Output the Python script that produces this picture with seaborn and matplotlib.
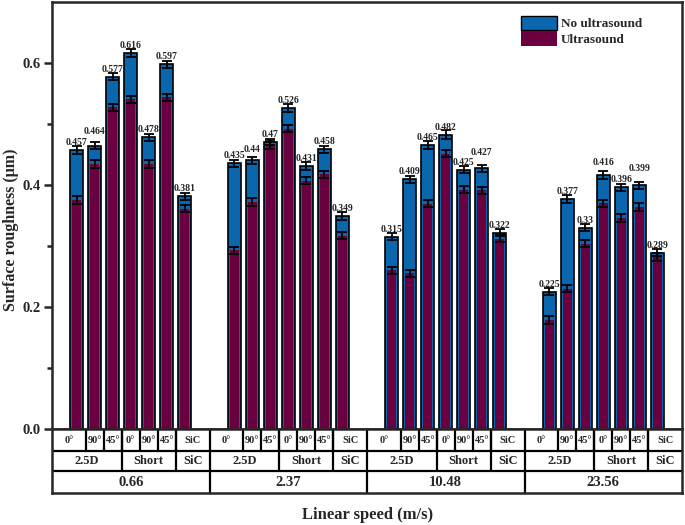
import numpy as np
import pandas as pd
import seaborn as sns
import matplotlib
matplotlib.use("Agg")
import matplotlib.pyplot as plt
from matplotlib.patches import Patch
from matplotlib.ticker import FixedLocator

# ---------------- data ----------------
speeds = ["0.66", "2.37", "10.48", "23.56"]
angles = ["0°", "90°", "45°", "0°", "90°", "45°", "SiC"]
materials = ["2.5D", "Short", "SiC"]
material_span = [3, 3, 1]

no_ultrasound = [0.457, 0.464, 0.577, 0.616, 0.478, 0.597, 0.381,
                 0.435, 0.44, 0.47, 0.526, 0.431, 0.458, 0.349,
                 0.315, 0.409, 0.465, 0.482, 0.425, 0.427, 0.322,
                 0.225, 0.377, 0.33, 0.416, 0.396, 0.399, 0.289]
ultrasound = [0.375, 0.434, 0.527, 0.540, 0.434, 0.543, 0.361,
              0.293, 0.372, 0.465, 0.492, 0.407, 0.417, 0.317,
              0.260, 0.255, 0.369, 0.451, 0.392, 0.391, 0.312,
              0.179, 0.230, 0.304, 0.370, 0.346, 0.364, 0.282]
no_ultrasound_err = [0.006, 0.006, 0.006, 0.007, 0.006, 0.006, 0.006,
                     0.006, 0.006, 0.005, 0.006, 0.006, 0.006, 0.006,
                     0.006, 0.006, 0.006, 0.007, 0.006, 0.006, 0.006,
                     0.006, 0.006, 0.006, 0.006, 0.006, 0.006, 0.006]
ultrasound_err = [0.006, 0.006, 0.006, 0.006, 0.006, 0.006, 0.006,
                  0.006, 0.006, 0.006, 0.006, 0.006, 0.006, 0.006,
                  0.006, 0.006, 0.006, 0.006, 0.006, 0.006, 0.006,
                  0.006, 0.006, 0.006, 0.006, 0.006, 0.006, 0.006]

# ---------------- style ----------------
BLUE = "#0a66ad"
MAROON = "#6b0041"
sns.set_theme(style="ticks")
plt.rcParams["font.family"] = ["Liberation Serif", "DejaVu Serif"]
plt.rcParams["font.weight"] = "bold"
plt.rcParams["axes.labelweight"] = "bold"

W, H = 685, 525
fig = plt.figure(figsize=(W / 100, H / 100), dpi=100)
L, R = 52 / W, 682 / W
y0, ytop, ytab = 429.3, 1.5, 493.0
ax = fig.add_axes([L, (H - y0) / H, R - L, (y0 - ytop) / H])
tax = fig.add_axes([L, (H - ytab) / H, R - L, (ytab - y0) / H])

STEP = 8.75
n = len(angles)
xpos = [g * STEP + i for g in range(len(speeds)) for i in range(n)]
df = pd.DataFrame({"x": xpos, "no": no_ultrasound, "us": ultrasound})

sns.barplot(data=df, x="x", y="no", native_scale=True, width=0.72, color=BLUE,
            saturation=1, edgecolor="black", linewidth=1.2, errorbar=None, ax=ax, zorder=2)
sns.barplot(data=df, x="x", y="us", native_scale=True, width=0.52, color=MAROON,
            saturation=1, linewidth=0, errorbar=None, ax=ax, zorder=3)

ax.errorbar(xpos, no_ultrasound, yerr=no_ultrasound_err, fmt="none", ecolor="black",
            elinewidth=1.3, capsize=3.5, capthick=1.3, zorder=5)
ax.errorbar(xpos, ultrasound, yerr=ultrasound_err, fmt="none", ecolor="black",
            elinewidth=1.3, capsize=3.5, capthick=1.3, zorder=5)

# label offsets (px above bar top)
lab_off = [7.5] * len(xpos)
lab_off[1] = 14
lab_off[8] = 11
lab_off[19] = 16
lab_off[24] = 12.5
lab_off[26] = 17
for x, v, off in zip(xpos, no_ultrasound, lab_off):
    ax.annotate(f"{v:g}", (x, v), xytext=(0, off * 0.72), textcoords="offset points",
                ha="center", va="center", fontsize=7, fontweight="bold", zorder=6)

xmin, xmax = -1.375, (len(speeds) - 1) * STEP + (n - 1) + 1.375
ax.set_xlim(xmin, xmax)
ax.set_ylim(0, 0.7)
ax.yaxis.set_major_locator(FixedLocator([0.0, 0.2, 0.4, 0.6]))
ax.yaxis.set_minor_locator(FixedLocator([0.1, 0.3, 0.5]))
ax.yaxis.set_major_formatter("{x:.1f}")
ax.tick_params(axis="y", which="major", length=6, width=1.8, labelsize=10.5, pad=2)
ax.tick_params(axis="y", which="minor", length=3.5, width=1.8)
ax.tick_params(axis="x", bottom=False, labelbottom=False)
ax.set_xlabel("")
ax.set_ylabel("Surface roughness (μm)", fontsize=11.5, fontweight="bold")
ax.yaxis.set_label_coords(-0.052, 0.466)
for s in ax.spines.values():
    s.set_linewidth(1.8)
    s.set_visible(True)

ax.legend(handles=[Patch(facecolor=BLUE, edgecolor="black", linewidth=1.0),
                   Patch(facecolor=MAROON, edgecolor="none")],
          labels=["No ultrasound", "Ultrasound"], loc="upper right",
          bbox_to_anchor=(0.955, 0.995), frameon=False, fontsize=9.5,
          handlelength=2.7, handleheight=1.35, labelspacing=0.05, handletextpad=0.3)

# ---------------- category table ----------------
tax.set_xlim(xmin, xmax)
tax.set_ylim(63.7, 0)
tax.set_xticks([])
tax.set_yticks([])
tax.set_facecolor("white")
for s in tax.spines.values():
    s.set_linewidth(1.8)
rows = [0, 21.7, 41.7, 63.7]
lw = 1.6
for r in rows[1:3]:
    tax.plot([xmin, xmax], [r, r], color="black", lw=lw, solid_capstyle="butt")
for g, sp in enumerate(speeds):
    base = g * STEP
    left = xmin if g == 0 else base - 1.375
    right = xmax if g == len(speeds) - 1 else base + (n - 1) + 1.375
    if g < len(speeds) - 1:
        tax.plot([right, right], [rows[0], rows[3]], color="black", lw=lw)
    # row 1
    for i, a in enumerate(angles):
        cl = left if i == 0 else base + i - 0.5
        cr = right if i == n - 1 else base + i + 0.5
        if i < n - 1:
            tax.plot([cr, cr], [rows[0], rows[1]], color="black", lw=lw)
        tax.text((cl + cr) / 2, (rows[0] + rows[1]) / 2 + 0.5, a, ha="center", va="center",
                 fontsize=7.5, fontweight="bold")
    # row 2
    start = 0
    for m, span in zip(materials, material_span):
        cl = left if start == 0 else base + start - 0.5
        end = start + span - 1
        cr = right if end == n - 1 else base + end + 0.5
        if end < n - 1:
            tax.plot([cr, cr], [rows[0], rows[2]], color="black", lw=lw)
        tax.text((cl + cr) / 2, (rows[1] + rows[2]) / 2 + 0.5, m, ha="center", va="center",
                 fontsize=9, fontweight="bold")
        start += span
    # row 3
    tax.text((left + right) / 2, (rows[2] + rows[3]) / 2 + 0.5, sp, ha="center", va="center",
             fontsize=10.5, fontweight="bold")

fig.text(368 / W, 1 - 515 / H, "Linear speed (m/s)", ha="center", va="center",
         fontsize=12, fontweight="bold")

fig.savefig("out.png", dpi=100)
